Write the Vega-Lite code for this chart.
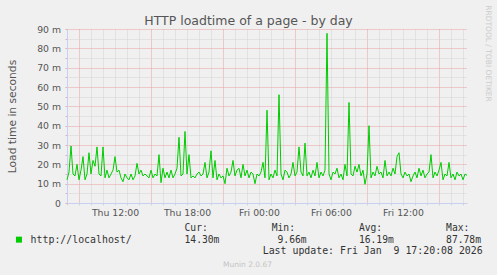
{
  "$schema": "https://vega.github.io/schema/vega-lite/v6.json",
  "width": 400,
  "height": 174,
  "autosize": {"type": "none"},
  "padding": {"left": 67, "top": 29, "right": 30, "bottom": 72},
  "background": "#f0f0f0",
  "config": {"font": "DejaVu Sans", "view": {"fill": "#ffffff", "stroke": null}},
  "title": {"text": "HTTP loadtime of a page - by day", "font": "DejaVu Sans", "fontSize": 12.5, "fontWeight": "normal", "color": "#555555", "anchor": "middle", "dx": -18.5, "offset": -22},
  "layer": [
    {
      "data": {"values": [
        {"t": "2026-01-08T08:00", "v": 12}, {"t": "2026-01-08T08:10", "v": 16}, {"t": "2026-01-08T08:20", "v": 29.5}, {"t": "2026-01-08T08:30", "v": 15}, {"t": "2026-01-08T08:40", "v": 14}, {"t": "2026-01-08T08:50", "v": 20},
        {"t": "2026-01-08T09:00", "v": 12}, {"t": "2026-01-08T09:10", "v": 17}, {"t": "2026-01-08T09:20", "v": 24}, {"t": "2026-01-08T09:30", "v": 12}, {"t": "2026-01-08T09:40", "v": 15}, {"t": "2026-01-08T09:50", "v": 26},
        {"t": "2026-01-08T10:00", "v": 15}, {"t": "2026-01-08T10:10", "v": 22}, {"t": "2026-01-08T10:20", "v": 19}, {"t": "2026-01-08T10:30", "v": 29}, {"t": "2026-01-08T10:40", "v": 15}, {"t": "2026-01-08T10:50", "v": 14},
        {"t": "2026-01-08T11:00", "v": 29}, {"t": "2026-01-08T11:10", "v": 13}, {"t": "2026-01-08T11:20", "v": 17}, {"t": "2026-01-08T11:30", "v": 13}, {"t": "2026-01-08T11:40", "v": 15}, {"t": "2026-01-08T11:50", "v": 17},
        {"t": "2026-01-08T12:00", "v": 24}, {"t": "2026-01-08T12:10", "v": 16}, {"t": "2026-01-08T12:20", "v": 17}, {"t": "2026-01-08T12:30", "v": 13}, {"t": "2026-01-08T12:40", "v": 11}, {"t": "2026-01-08T12:50", "v": 15},
        {"t": "2026-01-08T13:00", "v": 13}, {"t": "2026-01-08T13:10", "v": 12}, {"t": "2026-01-08T13:20", "v": 15}, {"t": "2026-01-08T13:30", "v": 12}, {"t": "2026-01-08T13:40", "v": 14}, {"t": "2026-01-08T13:50", "v": 20.5},
        {"t": "2026-01-08T14:00", "v": 15}, {"t": "2026-01-08T14:10", "v": 17}, {"t": "2026-01-08T14:20", "v": 14}, {"t": "2026-01-08T14:30", "v": 15}, {"t": "2026-01-08T14:40", "v": 14}, {"t": "2026-01-08T14:50", "v": 13},
        {"t": "2026-01-08T15:00", "v": 17}, {"t": "2026-01-08T15:10", "v": 13}, {"t": "2026-01-08T15:20", "v": 15}, {"t": "2026-01-08T15:30", "v": 14}, {"t": "2026-01-08T15:40", "v": 25}, {"t": "2026-01-08T15:50", "v": 10.5},
        {"t": "2026-01-08T16:00", "v": 18}, {"t": "2026-01-08T16:10", "v": 13}, {"t": "2026-01-08T16:20", "v": 16}, {"t": "2026-01-08T16:30", "v": 13}, {"t": "2026-01-08T16:40", "v": 17}, {"t": "2026-01-08T16:50", "v": 13},
        {"t": "2026-01-08T17:00", "v": 15}, {"t": "2026-01-08T17:10", "v": 18}, {"t": "2026-01-08T17:20", "v": 34}, {"t": "2026-01-08T17:30", "v": 14}, {"t": "2026-01-08T17:40", "v": 15}, {"t": "2026-01-08T17:50", "v": 37},
        {"t": "2026-01-08T18:00", "v": 15}, {"t": "2026-01-08T18:10", "v": 25}, {"t": "2026-01-08T18:20", "v": 13}, {"t": "2026-01-08T18:30", "v": 14}, {"t": "2026-01-08T18:40", "v": 13}, {"t": "2026-01-08T18:50", "v": 15},
        {"t": "2026-01-08T19:00", "v": 16}, {"t": "2026-01-08T19:10", "v": 14}, {"t": "2026-01-08T19:20", "v": 15}, {"t": "2026-01-08T19:30", "v": 21}, {"t": "2026-01-08T19:40", "v": 13}, {"t": "2026-01-08T19:50", "v": 16},
        {"t": "2026-01-08T20:00", "v": 27}, {"t": "2026-01-08T20:10", "v": 13}, {"t": "2026-01-08T20:20", "v": 22}, {"t": "2026-01-08T20:30", "v": 12}, {"t": "2026-01-08T20:40", "v": 15}, {"t": "2026-01-08T20:50", "v": 13},
        {"t": "2026-01-08T21:00", "v": 14}, {"t": "2026-01-08T21:10", "v": 10}, {"t": "2026-01-08T21:20", "v": 18}, {"t": "2026-01-08T21:30", "v": 14}, {"t": "2026-01-08T21:40", "v": 16}, {"t": "2026-01-08T21:50", "v": 22},
        {"t": "2026-01-08T22:00", "v": 14}, {"t": "2026-01-08T22:10", "v": 17}, {"t": "2026-01-08T22:20", "v": 18}, {"t": "2026-01-08T22:30", "v": 13}, {"t": "2026-01-08T22:40", "v": 20}, {"t": "2026-01-08T22:50", "v": 14},
        {"t": "2026-01-08T23:00", "v": 17}, {"t": "2026-01-08T23:10", "v": 13}, {"t": "2026-01-08T23:20", "v": 16}, {"t": "2026-01-08T23:30", "v": 15}, {"t": "2026-01-08T23:40", "v": 10}, {"t": "2026-01-08T23:50", "v": 15},
        {"t": "2026-01-09T00:00", "v": 14}, {"t": "2026-01-09T00:10", "v": 16}, {"t": "2026-01-09T00:20", "v": 21}, {"t": "2026-01-09T00:30", "v": 13}, {"t": "2026-01-09T00:40", "v": 48}, {"t": "2026-01-09T00:50", "v": 12},
        {"t": "2026-01-09T01:00", "v": 15}, {"t": "2026-01-09T01:10", "v": 13}, {"t": "2026-01-09T01:20", "v": 17}, {"t": "2026-01-09T01:30", "v": 14}, {"t": "2026-01-09T01:40", "v": 56}, {"t": "2026-01-09T01:50", "v": 15},
        {"t": "2026-01-09T02:00", "v": 12}, {"t": "2026-01-09T02:10", "v": 17}, {"t": "2026-01-09T02:20", "v": 16}, {"t": "2026-01-09T02:30", "v": 13}, {"t": "2026-01-09T02:40", "v": 15}, {"t": "2026-01-09T02:50", "v": 21},
        {"t": "2026-01-09T03:00", "v": 14}, {"t": "2026-01-09T03:10", "v": 16}, {"t": "2026-01-09T03:20", "v": 29}, {"t": "2026-01-09T03:30", "v": 16}, {"t": "2026-01-09T03:40", "v": 14}, {"t": "2026-01-09T03:50", "v": 31},
        {"t": "2026-01-09T04:00", "v": 14}, {"t": "2026-01-09T04:10", "v": 16}, {"t": "2026-01-09T04:20", "v": 13}, {"t": "2026-01-09T04:30", "v": 17}, {"t": "2026-01-09T04:40", "v": 14}, {"t": "2026-01-09T04:50", "v": 21},
        {"t": "2026-01-09T05:00", "v": 13}, {"t": "2026-01-09T05:10", "v": 16}, {"t": "2026-01-09T05:20", "v": 14}, {"t": "2026-01-09T05:30", "v": 17}, {"t": "2026-01-09T05:40", "v": 87.78}, {"t": "2026-01-09T05:50", "v": 15},
        {"t": "2026-01-09T06:00", "v": 12}, {"t": "2026-01-09T06:10", "v": 16}, {"t": "2026-01-09T06:20", "v": 15}, {"t": "2026-01-09T06:30", "v": 18}, {"t": "2026-01-09T06:40", "v": 13}, {"t": "2026-01-09T06:50", "v": 15},
        {"t": "2026-01-09T07:00", "v": 12}, {"t": "2026-01-09T07:10", "v": 20}, {"t": "2026-01-09T07:20", "v": 14}, {"t": "2026-01-09T07:30", "v": 52}, {"t": "2026-01-09T07:40", "v": 15}, {"t": "2026-01-09T07:50", "v": 14},
        {"t": "2026-01-09T08:00", "v": 19}, {"t": "2026-01-09T08:10", "v": 16}, {"t": "2026-01-09T08:20", "v": 20}, {"t": "2026-01-09T08:30", "v": 14}, {"t": "2026-01-09T08:40", "v": 17}, {"t": "2026-01-09T08:50", "v": 9.66},
        {"t": "2026-01-09T09:00", "v": 15}, {"t": "2026-01-09T09:10", "v": 40}, {"t": "2026-01-09T09:20", "v": 13}, {"t": "2026-01-09T09:30", "v": 16}, {"t": "2026-01-09T09:40", "v": 14}, {"t": "2026-01-09T09:50", "v": 19},
        {"t": "2026-01-09T10:00", "v": 15}, {"t": "2026-01-09T10:10", "v": 16}, {"t": "2026-01-09T10:20", "v": 13}, {"t": "2026-01-09T10:30", "v": 22}, {"t": "2026-01-09T10:40", "v": 14}, {"t": "2026-01-09T10:50", "v": 16},
        {"t": "2026-01-09T11:00", "v": 14}, {"t": "2026-01-09T11:10", "v": 18}, {"t": "2026-01-09T11:20", "v": 15}, {"t": "2026-01-09T11:30", "v": 24}, {"t": "2026-01-09T11:40", "v": 26}, {"t": "2026-01-09T11:50", "v": 15},
        {"t": "2026-01-09T12:00", "v": 13}, {"t": "2026-01-09T12:10", "v": 16}, {"t": "2026-01-09T12:20", "v": 14}, {"t": "2026-01-09T12:30", "v": 15}, {"t": "2026-01-09T12:40", "v": 11}, {"t": "2026-01-09T12:50", "v": 14},
        {"t": "2026-01-09T13:00", "v": 16}, {"t": "2026-01-09T13:10", "v": 13}, {"t": "2026-01-09T13:20", "v": 18}, {"t": "2026-01-09T13:30", "v": 14}, {"t": "2026-01-09T13:40", "v": 17}, {"t": "2026-01-09T13:50", "v": 13},
        {"t": "2026-01-09T14:00", "v": 15}, {"t": "2026-01-09T14:10", "v": 16}, {"t": "2026-01-09T14:20", "v": 25}, {"t": "2026-01-09T14:30", "v": 13}, {"t": "2026-01-09T14:40", "v": 16}, {"t": "2026-01-09T14:50", "v": 14},
        {"t": "2026-01-09T15:00", "v": 17}, {"t": "2026-01-09T15:10", "v": 21}, {"t": "2026-01-09T15:20", "v": 12}, {"t": "2026-01-09T15:30", "v": 15}, {"t": "2026-01-09T15:40", "v": 14}, {"t": "2026-01-09T15:50", "v": 21},
        {"t": "2026-01-09T16:00", "v": 13}, {"t": "2026-01-09T16:10", "v": 15}, {"t": "2026-01-09T16:20", "v": 12}, {"t": "2026-01-09T16:30", "v": 16}, {"t": "2026-01-09T16:40", "v": 14}, {"t": "2026-01-09T16:50", "v": 15},
        {"t": "2026-01-09T17:00", "v": 12}, {"t": "2026-01-09T17:10", "v": 15}, {"t": "2026-01-09T17:20", "v": 14.3}
      ]},
      "mark": {"type": "line", "strokeWidth": 1},
      "encoding": {
        "x": {
          "field": "t", "type": "temporal",
          "axis": {
            "title": null,
            "tickCount": 34,
            "grid": true,
            "gridColor": {"condition": {"test": "hours(datum.value) % 6 === 3", "value": "#e8a0a0"}, "value": "#d4d4d4"},
            "gridDash": [1, 1],
            "tickSize": 2,
            "tickColor": "#d4d4d4",
            "domainColor": "#c8cff2",
            "labelExpr": "hours(datum.value) % 6 === 0 ? timeFormat(datum.value, '%a %H:%M') : ''",
            "labelFont": "DejaVu Sans",
            "labelFontSize": 9.3,
            "labelColor": "#555555",
            "labelPadding": 3.3,
            "labelOverlap": false,
            "labelFlush": false
          }
        },
        "y": {
          "field": "v", "type": "quantitative",
          "scale": {"domain": [0, 90], "nice": false},
          "axis": {
            "title": "Load time in seconds",
            "values": [0, 5, 10, 15, 20, 25, 30, 35, 40, 45, 50, 55, 60, 65, 70, 75, 80, 85, 90],
            "grid": true,
            "gridColor": {"condition": {"test": "datum.value % 10 === 0", "value": "#e8a0a0"}, "value": "#d4d4d4"},
            "gridDash": [1, 1],
            "tickSize": 2,
            "tickColor": "#e0b0b0",
            "domainColor": "#c8cff2",
            "labelExpr": "datum.value % 10 === 0 ? (datum.value === 0 ? '0' : datum.value + ' m') : ''",
            "labelFont": "DejaVu Sans",
            "labelFontSize": 9.3,
            "labelColor": "#555555",
            "labelPadding": 4.5,
            "labelOverlap": false,
            "titleFont": "DejaVu Sans",
            "titleFontSize": 10.7,
            "titleFontWeight": "normal",
            "titleColor": "#555555",
            "titlePadding": 19.5
          }
        },
        "color": {
          "datum": "http://localhost/",
          "scale": {"range": ["#00cc00"]},
          "legend": {
            "orient": "none", "legendX": -53, "legendY": 205.7, "title": null,
            "symbolType": "square", "symbolSize": 36, "symbolFillColor": "#00cc00", "symbolStrokeWidth": 0,
            "labelFont": "DejaVu Sans Mono", "labelFontSize": 9.9, "labelColor": "#333333",
            "labelOffset": 6.7, "padding": 0
          }
        }
      }
    },
    {
      "data": {"values": [{"lines": ["Cur:\u00a0\u00a0\u00a0\u00a0\u00a0\u00a0\u00a0\u00a0\u00a0\u00a0\u00a0Min:\u00a0\u00a0\u00a0\u00a0\u00a0\u00a0\u00a0\u00a0\u00a0\u00a0\u00a0Avg:\u00a0\u00a0\u00a0\u00a0\u00a0\u00a0\u00a0\u00a0\u00a0\u00a0\u00a0Max:", "14.30m\u00a0\u00a0\u00a0\u00a0\u00a0\u00a0\u00a0\u00a0\u00a0\u00a09.66m\u00a0\u00a0\u00a0\u00a0\u00a0\u00a0\u00a0\u00a0\u00a016.19m\u00a0\u00a0\u00a0\u00a0\u00a0\u00a0\u00a0\u00a0\u00a087.78m"]}]},
      "mark": {"type": "text", "align": "left", "baseline": "alphabetic", "font": "DejaVu Sans Mono", "fontSize": 9.67, "lineHeight": 11.5, "color": "#333333", "dx": -82.5, "dy": 115},
      "encoding": {"text": {"field": "lines"}}
    },
    {
      "data": {"values": [{"note": "Last update: Fri Jan\u00a0 9 17:20:08 2026"}]},
      "mark": {"type": "text", "align": "right", "baseline": "alphabetic", "font": "DejaVu Sans Mono", "fontSize": 9.9, "color": "#333333", "dx": 215.7, "dy": 138.3},
      "encoding": {"text": {"field": "note"}}
    },
    {
      "data": {"values": [{"note": "Munin 2.0.67"}]},
      "mark": {"type": "text", "align": "center", "baseline": "alphabetic", "font": "DejaVu Sans", "fontSize": 7.5, "color": "#c4c4c4", "dx": -19.5, "dy": 151},
      "encoding": {"text": {"field": "note"}}
    },
    {
      "data": {"values": [{"note": "RRDTOOL / TOBI OETIKER"}]},
      "mark": {"type": "text", "align": "center", "baseline": "alphabetic", "font": "DejaVu Sans", "fontSize": 7.5, "color": "#cccccc", "angle": 90, "dx": -62.5, "dy": -218.7},
      "encoding": {"text": {"field": "note"}}
    }
  ]
}
